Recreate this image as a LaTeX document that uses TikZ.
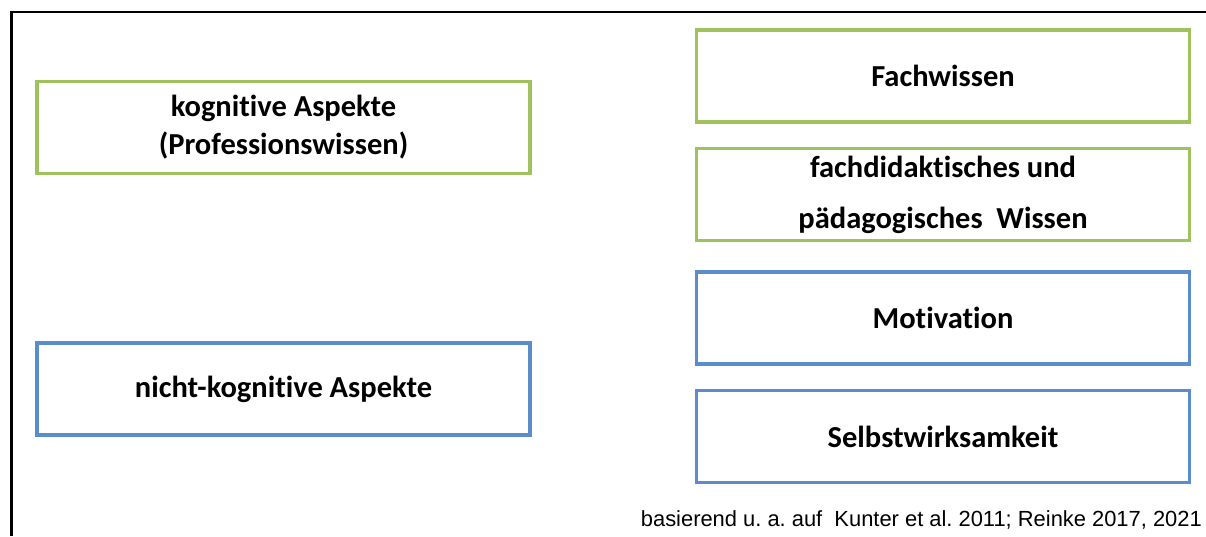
\documentclass[tikz,border=0pt]{standalone}
\usepackage{fontspec}
\setmainfont{Carlito}[RawFeature=-liga]
\newfontfamily\capfont{Liberation Sans}
\definecolor{boxgreen}{HTML}{9FC25C}
\definecolor{boxblue}{HTML}{5B8DCB}
\frenchspacing
\begin{document}
\begin{tikzpicture}[x=1pt,y=-1pt,
  gbox/.style={draw=boxgreen,line width=3.5pt,minimum width=493pt,minimum height=92pt,inner sep=0pt,font=\fontsize{30.5}{38}\selectfont\bfseries,align=center},
  bbox/.style={gbox,draw=boxblue}]
\useasboundingbox (0,0) rectangle (1206,536);
\fill[white] (0,0) rectangle (1206,536);
\draw[line width=1.5pt] (10,12) -- (1206,12);
\draw[line width=3pt] (11,12) -- (11,536);
\node[gbox] (kog) at (283.5,127.5) {kognitive Aspekte\\(Professionswissen)};
\node[bbox] (nkog) at (283.5,389) {nicht-kognitive Aspekte};
\node[gbox] (fach) at (943,76) {Fachwissen};
\node[gbox,font=\fontsize{30.5}{51}\selectfont\bfseries] (didak) at (943,194.5) {fachdidaktisches und\\pädagogisches\ \ Wissen};
\node[bbox] (mot) at (943,318) {Motivation};
\node[bbox] (selbst) at (943,436.5) {Selbstwirksamkeit};
\node[anchor=east,font=\capfont\fontsize{21.9}{24}\selectfont,inner sep=0pt] (cap) at (1202,520) {basierend u. a. auf\ \ Kunter et al. 2011; Reinke 2017, 2021};
\end{tikzpicture}
\end{document}
